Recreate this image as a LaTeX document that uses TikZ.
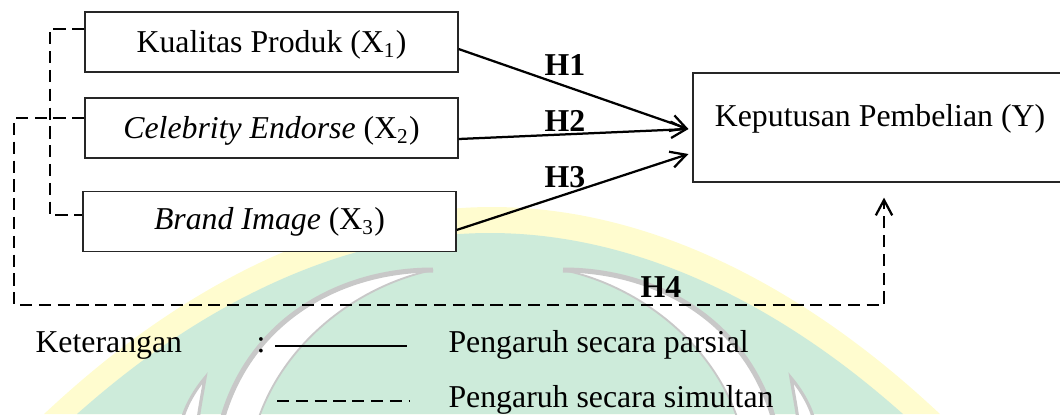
\documentclass[tikz,border=0pt]{standalone}
\usepackage{fontspec}
\setmainfont{Liberation Serif}
\usetikzlibrary{arrows.meta,calc}
\definecolor{wmyellow}{HTML}{FFFCCF}
\definecolor{wmgreen}{HTML}{CDEBDA}
\definecolor{wmgray}{HTML}{C8C8C8}
\begin{document}
\begin{tikzpicture}[x=0.37736pt,y=-0.37736pt,
  txt/.style={font=\fontsize{12pt}{14pt}\selectfont, inner sep=0pt},
  varbox/.style={draw=black!85, line width=0.45pt, fill=white, minimum width=140.76pt,
    minimum height=22.64pt, inner sep=0pt, font=\fontsize{12pt}{14pt}\selectfont,
    text height=10.8pt, text depth=2.9pt},
  hyp/.style={font=\fontsize{12pt}{14pt}\selectfont\bfseries, inner sep=0pt},
  barb/.style={-{Straight Barb[length=5.8pt,width=6.2pt,line width=0.85pt]}},
  solidarr/.style={line width=0.85pt, barb},
  dsh/.style={line width=0.85pt, dash pattern=on 4.6pt off 2.5pt},
  wmfill/.style={fill=white},
  wmedge/.style={draw=wmgray, line width=1.9pt},
  wmthin/.style={draw=wmgray, line width=0.7pt}
]
\useasboundingbox (0,0) rectangle (1060,414);
\begin{scope}
\clip (0,0) rectangle (1060,414);
% watermark
\fill[wmyellow] (44,414) parabola bend (492,207) (940,414) -- cycle;
\fill[wmgreen] (77,414) parabola bend (490,233) (903,414) -- cycle;
% left crescent
\path[wmfill] (433,270) .. controls (340,270) and (250,320) .. (222,420)
  -- (258,420) .. controls (285,340) and (360,285) .. (433,270) -- cycle;
\path[wmedge] (433,270) .. controls (340,270) and (250,320) .. (222,420);
\path[wmthin] (433,270) .. controls (360,285) and (285,340) .. (258,420);
% right crescent
\path[wmfill] (563,270) .. controls (656,270) and (746,320) .. (774,420)
  -- (738,420) .. controls (711,340) and (636,285) .. (563,270) -- cycle;
\path[wmedge] (563,270) .. controls (656,270) and (746,320) .. (774,420);
\path[wmthin] (563,270) .. controls (636,285) and (711,340) .. (738,420);
% small spikes
\path[fill=white, draw=wmgray, line width=1.2pt] (205,378) .. controls (195,390) and (186,405) .. (182,420)
  -- (198,420) .. controls (200,405) and (203,390) .. (205,378) -- cycle;
\path[fill=white, draw=wmgray, line width=1.2pt] (791,378) .. controls (801,390) and (810,405) .. (814,420)
  -- (798,420) .. controls (796,405) and (793,390) .. (791,378) -- cycle;

% boxes
\node[varbox] (k1) at (271.5,42) {Kualitas Produk (X\textsubscript{1})};
\node[varbox] (k2) at (271.5,128) {\textit{Celebrity Endorse} (X\textsubscript{2})};
\node[varbox, text depth=4.8pt] (k3) at (269.5,221.5) {\textit{Brand Image} (X\textsubscript{3})};
\node[varbox, minimum width=141.1pt, minimum height=41.13pt, text height=10pt, text depth=11.13pt]
  (ybox) at (880,127.5) {Keputusan Pembelian (Y)};

% partial effects
\draw[solidarr] ([yshift=-2.64pt]k1.east) -- ([xshift=-1.5pt,yshift=-0.57pt]ybox.west);
\draw[solidarr] ([yshift=-4.15pt]k2.east) -- ([xshift=-1.5pt,yshift=-0.57pt]ybox.west);
\draw[solidarr] ([yshift=-3.2pt]k3.east) -- ([xshift=-1.5pt,yshift=-10pt]ybox.west);
\node[hyp] (h1) at (565,65) {H1};
\node[hyp] (h2) at (565,121) {H2};
\node[hyp] (h3) at (565,177) {H3};

% simultaneous effect
\coordinate (b1) at (50,29);
\coordinate (b2) at (50,215);
\draw[dsh] (b1 -| k1.west) -- (b1) -- (b2) -- (b2 -| k3.west);
\coordinate (c1) at (14,118);
\coordinate (c2) at (14,305);
\coordinate (c3) at (884,305);
\draw[dsh, barb] (c1 -| k2.west) -- (c1) -- (c2) -- (c3) -- ($(c3 |- ybox.south)+(0,15)$);
\node[hyp] (h4) at (661,287) {H4};

% legend
\node[txt, anchor=base west] (ket) at (35,352) {Keterangan};
\node[txt, anchor=base] (colon) at (261,352) {:};
\coordinate (s1) at (275,346);
\coordinate (s2) at (407,346);
\draw[line width=0.85pt] (s1) -- (s2);
\node[txt, anchor=base west] (parsial) at (448,352) {Pengaruh secara parsial};
\coordinate (d1) at (277,401);
\coordinate (d2) at (410,401);
\draw[dsh] (d1) -- (d2);
\node[txt, anchor=base west] (simultan) at (448,407) {Pengaruh secara simultan};
\end{scope}
\end{tikzpicture}
\end{document}
